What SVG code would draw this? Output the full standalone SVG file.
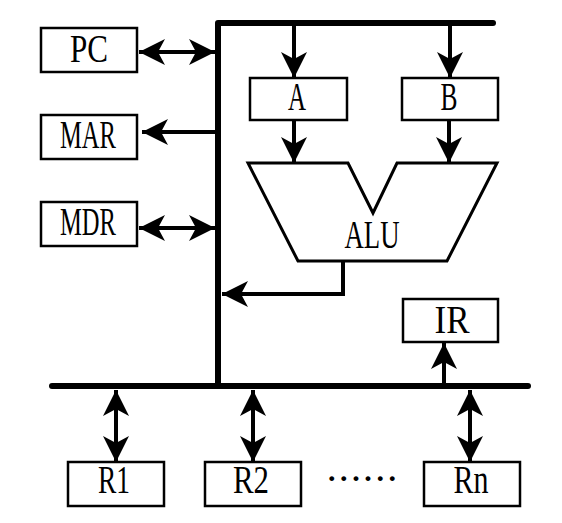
<svg xmlns="http://www.w3.org/2000/svg" width="562" height="523" viewBox="0 0 562 523">
<style>
.box{fill:#fff;stroke:#000;stroke-width:2.5}
.lbl{font-family:"Liberation Serif",serif;font-size:39px;fill:#000;text-anchor:middle}
.dots{font-family:"Liberation Serif",serif;font-size:30px;font-weight:bold;fill:#000;text-anchor:middle}
.bus{stroke:#000;stroke-width:6;fill:none;stroke-linecap:round}
.ar{stroke:#000;stroke-width:4;fill:none}
</style>
<defs>
<marker id="ah" markerUnits="userSpaceOnUse" viewBox="-26 -14 27 28" refX="0" refY="0" markerWidth="27" markerHeight="28" orient="auto-start-reverse">
<path d="M0,0 L-26,-13 L-19,0 L-26,13 Z" fill="#000"/>
</marker>
</defs>
<rect width="562" height="523" fill="#fff"/>
<g id="connectors">
<path class="bus" d="M218,23 H493"/>
<path class="bus" d="M218,23 V386" style="stroke-linecap:butt"/>
<path class="bus" d="M52,386 H528"/>
<line class="ar" x1="139" y1="52" x2="215" y2="52" marker-start="url(#ah)" marker-end="url(#ah)"/>
<line class="ar" x1="215" y1="132" x2="142" y2="132" marker-end="url(#ah)"/>
<line class="ar" x1="139" y1="228" x2="215" y2="228" marker-start="url(#ah)" marker-end="url(#ah)"/>
<line class="ar" x1="294" y1="26" x2="294" y2="78" marker-end="url(#ah)"/>
<line class="ar" x1="450" y1="26" x2="450" y2="78" marker-end="url(#ah)"/>
<line class="ar" x1="294" y1="120" x2="294" y2="163" marker-end="url(#ah)"/>
<line class="ar" x1="449" y1="120" x2="449" y2="163" marker-end="url(#ah)"/>
<path class="ar" d="M343,261 V294 H222" marker-end="url(#ah)"/>
<line class="ar" x1="444" y1="383" x2="444" y2="343" marker-end="url(#ah)"/>
<line class="ar" x1="116" y1="390" x2="116" y2="462" marker-start="url(#ah)" marker-end="url(#ah)"/>
<line class="ar" x1="253" y1="390" x2="253" y2="462" marker-start="url(#ah)" marker-end="url(#ah)"/>
<line class="ar" x1="470" y1="390" x2="470" y2="462" marker-start="url(#ah)" marker-end="url(#ah)"/>
</g>
<g id="PC"><rect class="box" x="41" y="28" width="96" height="44"/><text class="lbl" x="89" y="62" textLength="38" lengthAdjust="spacingAndGlyphs">PC</text></g>
<g id="MAR"><rect class="box" x="41" y="115" width="96" height="44"/><text class="lbl" x="88" y="148" textLength="56" lengthAdjust="spacingAndGlyphs">MAR</text></g>
<g id="MDR"><rect class="box" x="41" y="202" width="96" height="44"/><text class="lbl" x="88" y="235" textLength="56" lengthAdjust="spacingAndGlyphs">MDR</text></g>
<g id="A"><rect class="box" x="250" y="78" width="97" height="42"/><text class="lbl" x="297" y="110" textLength="18" lengthAdjust="spacingAndGlyphs">A</text></g>
<g id="B"><rect class="box" x="402" y="78" width="96" height="42"/><text class="lbl" x="449" y="110" textLength="17" lengthAdjust="spacingAndGlyphs">B</text></g>
<g id="ALU"><path d="M248,163 H348 L373,213 L397,163 H497 L447,261 H298 Z" fill="#fff" stroke="#000" stroke-width="3" stroke-linejoin="miter"/><text class="lbl" x="372" y="248" textLength="55" lengthAdjust="spacingAndGlyphs">ALU</text></g>
<g id="IR"><rect class="box" x="403" y="299" width="95" height="43"/><text class="lbl" x="452" y="333" textLength="35" lengthAdjust="spacingAndGlyphs">IR</text></g>
<g id="R1"><rect class="box" x="68" y="462" width="96" height="44"/><text class="lbl" x="114" y="493" textLength="32" lengthAdjust="spacingAndGlyphs">R1</text></g>
<g id="R2"><rect class="box" x="205" y="462" width="96" height="44"/><text class="lbl" x="251" y="493" textLength="36" lengthAdjust="spacingAndGlyphs">R2</text></g>
<g id="Rn"><rect class="box" x="424" y="462" width="96" height="44"/><text class="lbl" x="471" y="493" textLength="35" lengthAdjust="spacingAndGlyphs">Rn</text></g>
<text class="dots" x="362" y="481" textLength="68" lengthAdjust="spacing">......</text>
</svg>
